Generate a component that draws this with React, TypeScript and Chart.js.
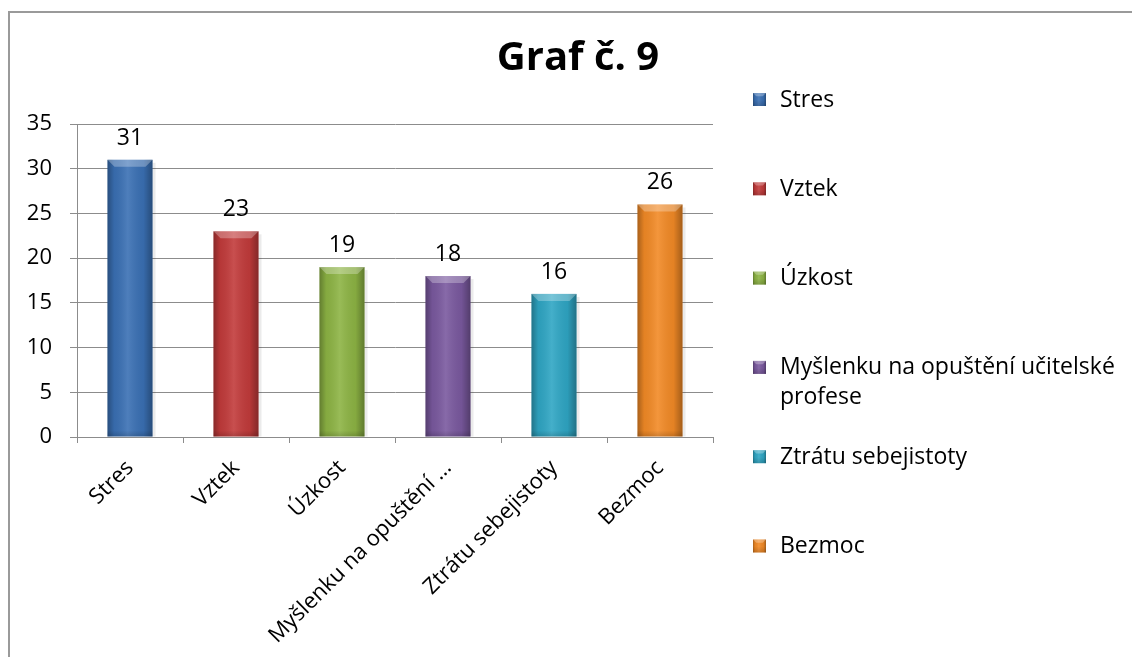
import React, { useEffect, useRef } from "react";
import { Chart, registerables } from "chart.js";

Chart.register(...registerables);

const TITLE = "Graf č. 9";
const categories = [
  "Stres",
  "Vztek",
  "Úzkost",
  "Myšlenku na opuštění učitelské profese",
  "Ztrátu sebejistoty",
  "Bezmoc",
];
const axisLabels = [
  "Stres",
  "Vztek",
  "Úzkost",
  "Myšlenku na opuštění …",
  "Ztrátu sebejistoty",
  "Bezmoc",
];
const legendLines = [
  ["Stres"],
  ["Vztek"],
  ["Úzkost"],
  ["Myšlenku na opuštění učitelské", "profese"],
  ["Ztrátu sebejistoty"],
  ["Bezmoc"],
];
const values = [31, 23, 19, 18, 16, 26];
const colors = ["#3a70b4", "#c23b3b", "#8db444", "#7a599f", "#2fa6c4", "#f28a26"];
const Y_MIN = 0;
const Y_MAX = 35;
const Y_STEP = 5;

const FONT = "'Open Sans', sans-serif";

function bevelRect(ctx: CanvasRenderingContext2D, left: number, top: number, w: number, h: number, base: string) {
  ctx.save();
  ctx.fillStyle = base;
  ctx.fillRect(left, top, w, h);
  const g = ctx.createLinearGradient(left, 0, left + w, 0);
  g.addColorStop(0, "rgba(0,0,0,0.3)");
  g.addColorStop(0.15, "rgba(0,0,0,0.06)");
  g.addColorStop(0.45, "rgba(255,255,255,0.1)");
  g.addColorStop(0.8, "rgba(0,0,0,0.06)");
  g.addColorStop(1, "rgba(0,0,0,0.32)");
  ctx.fillStyle = g;
  ctx.fillRect(left, top, w, h);
  const b = Math.min(7, h / 2, w / 4);
  ctx.beginPath();
  ctx.moveTo(left, top);
  ctx.lineTo(left + w, top);
  ctx.lineTo(left + w - b, top + b);
  ctx.lineTo(left + b, top + b);
  ctx.closePath();
  ctx.fillStyle = "rgba(255,255,255,0.28)";
  ctx.fill();
  const gb = ctx.createLinearGradient(0, top + h - 6, 0, top + h);
  gb.addColorStop(0, "rgba(0,0,0,0)");
  gb.addColorStop(1, "rgba(0,0,0,0.15)");
  ctx.fillStyle = gb;
  ctx.fillRect(left, top + h - 6, w, 6);
  ctx.restore();
}

const decorPlugin = {
  id: "decor",
  beforeDraw(chart: any) {
    const ctx = chart.ctx as CanvasRenderingContext2D;
    ctx.save();
    ctx.fillStyle = "#fff";
    ctx.fillRect(0, 0, chart.width, chart.height);
    ctx.strokeStyle = "#9a9a9a";
    ctx.lineWidth = 2;
    ctx.beginPath();
    ctx.moveTo(9, chart.height + 5);
    ctx.lineTo(9, 12);
    ctx.lineTo(chart.width + 5, 12);
    ctx.stroke();
    ctx.restore();
  },
  afterDatasetsDraw(chart: any) {
    const ctx = chart.ctx as CanvasRenderingContext2D;
    const meta = chart.getDatasetMeta(0);
    meta.data.forEach((el: any, i: number) => {
      const w = el.width;
      const left = el.x - w / 2;
      const top = Math.min(el.y, el.base);
      const h = Math.abs(el.base - el.y);
      ctx.save();
      ctx.fillStyle = "rgba(0,0,0,0.08)";
      ctx.fillRect(left + w, top + 3, 3, h - 3);
      ctx.restore();
      bevelRect(ctx, left, top, w, h, colors[i]);
      ctx.save();
      ctx.fillStyle = "#000";
      ctx.font = `23px ${FONT}`;
      ctx.textAlign = "center";
      ctx.textBaseline = "alphabetic";
      ctx.fillText(String(values[i]), el.x, el.y - 15);
      ctx.restore();
    });
  },
  afterDraw(chart: any) {
    const ctx = chart.ctx as CanvasRenderingContext2D;
    ctx.save();
    ctx.fillStyle = "#000";
    ctx.font = `bold 40px ${FONT}`;
    ctx.textAlign = "center";
    ctx.textBaseline = "alphabetic";
    ctx.fillText(TITLE, 578, 70);
    ctx.restore();
    const startY = 99;
    const gap = 89.3;
    ctx.save();
    ctx.font = `23px ${FONT}`;
    ctx.textAlign = "left";
    ctx.textBaseline = "middle";
    legendLines.forEach((lines, i) => {
      const cy = startY + i * gap;
      bevelRect(ctx, 753, cy - 6, 13, 13, colors[i]);
      ctx.fillStyle = "#000";
      lines.forEach((ln, j) => {
        ctx.fillText(ln, 780, cy + 1 + j * 30);
      });
    });
    ctx.restore();
  },
};

export default function App() {
  const ref = useRef<HTMLCanvasElement | null>(null);
  useEffect(() => {
    document.body.style.margin = "0";
    document.body.style.overflow = "hidden";
    if (!ref.current) return;
    const chart = new Chart(ref.current, {
      type: "bar",
      data: {
        labels: axisLabels,
        datasets: [
          {
            label: "Graf",
            data: values,
            backgroundColor: "rgba(0,0,0,0)",
            barPercentage: 0.425,
            categoryPercentage: 1,
          },
        ],
      },
      options: {
        animation: false,
        responsive: true,
        maintainAspectRatio: false,
        layout: { padding: { top: 124, right: 419, bottom: 0, left: 0 } },
        plugins: {
          legend: { display: false },
          title: { display: false },
          tooltip: { enabled: false },
        },
        scales: {
          x: {
            offset: true,
            afterFit: (s: any) => {
              s.height = 220;
            },
            grid: {
              offset: true,
              drawOnChartArea: false,
              drawTicks: true,
              tickLength: 6,
              color: "#8c8c8c",
            },
            border: { display: true, color: "#8c8c8c" },
            ticks: {
              autoSkip: false,
              maxRotation: 45,
              minRotation: 45,
              color: "#000",
              padding: 12,
              font: { family: FONT, size: 22 },
            },
          },
          y: {
            min: Y_MIN,
            max: Y_MAX,
            afterFit: (s: any) => {
              s.width = 77;
            },
            ticks: {
              stepSize: Y_STEP,
              color: "#000",
              padding: 18,
              font: { family: FONT, size: 22 },
            },
            grid: {
              color: "#8c8c8c",
              tickLength: 7,
              drawTicks: true,
            },
            border: { display: true, color: "#8c8c8c" },
          },
        },
      },
      plugins: [decorPlugin],
    });
    return () => chart.destroy();
  }, []);

  return (
    <div style={{ position: "fixed", left: 0, top: 0, width: 1132, height: 657, overflow: "hidden", background: "#fff" }}>
      <canvas ref={ref} />
    </div>
  );
}
